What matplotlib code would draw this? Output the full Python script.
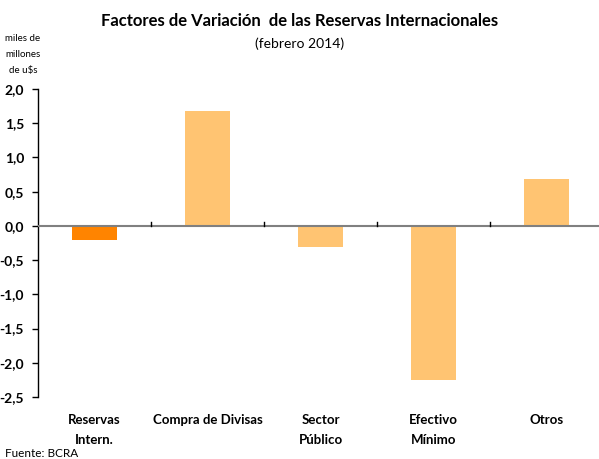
import numpy as np
import matplotlib
matplotlib.use("Agg")
import matplotlib.pyplot as plt

categories = ["Reservas\nIntern.", "Compra de Divisas", "Sector\nPúblico", "Efectivo\nMínimo", "Otros"]
values = [-0.20, 1.68, -0.31, -2.25, 0.69]
colors = ["#FF8400", "#FFC472", "#FFC472", "#FFC472", "#FFC472"]
yticks = [2.0, 1.5, 1.0, 0.5, 0.0, -0.5, -1.0, -1.5, -2.0, -2.5]

plt.rcParams['font.family'] = ['Lato', 'DejaVu Sans']

W, H = 599, 459
fig = plt.figure(figsize=(W / 100, H / 100), dpi=100)
ax = fig.add_axes([38 / W, (H - 397) / H, (603 - 38) / W, (397 - 89) / H])

x = np.arange(len(categories))
ax.bar(x, values, width=0.4, color=colors, zorder=2)
ax.axhline(0, color="#808080", lw=1.5, zorder=3)

ax.set_xlim(-0.5, 4.5)
ax.set_ylim(-2.5, 2.0)
ax.set_yticks(yticks)
ax.set_yticklabels([f"{v:.1f}".replace(".", ",") for v in yticks], fontsize=10, fontweight="bold")
ax.tick_params(axis="y", length=4, width=1, direction="out", pad=6)
ax.set_xticks([])

# tick marks between categories on the zero line
for b in np.arange(0.5, 4.5, 1.0):
    ax.plot([b, b], [0, 0.06], color="black", lw=1, zorder=4)

for s in ["top", "right", "bottom"]:
    ax.spines[s].set_visible(False)
ax.spines["left"].set_linewidth(1)

for xi, lab in zip(x, categories):
    ax.text(xi, -2.75, lab, ha="center", va="top", fontsize=9.5, fontweight="bold",
            linespacing=1.75)

fig.text(0.5, 0.955, "Factores de Variación  de las Reservas Internacionales", ha="center",
         va="center", fontsize=12, fontweight="bold")
fig.text(0.5, 0.905, "(febrero 2014)", ha="center", va="center", fontsize=10)
fig.text(23 / W, 1 - 34 / H, "miles de\nmillones\nde u$s", ha="center", va="top",
         fontsize=7, linespacing=2.0)
fig.text(5 / W, 1 - 459 / H, "Fuente: BCRA", ha="left", va="bottom", fontsize=8.5)

fig.savefig("out.png", dpi=100)
